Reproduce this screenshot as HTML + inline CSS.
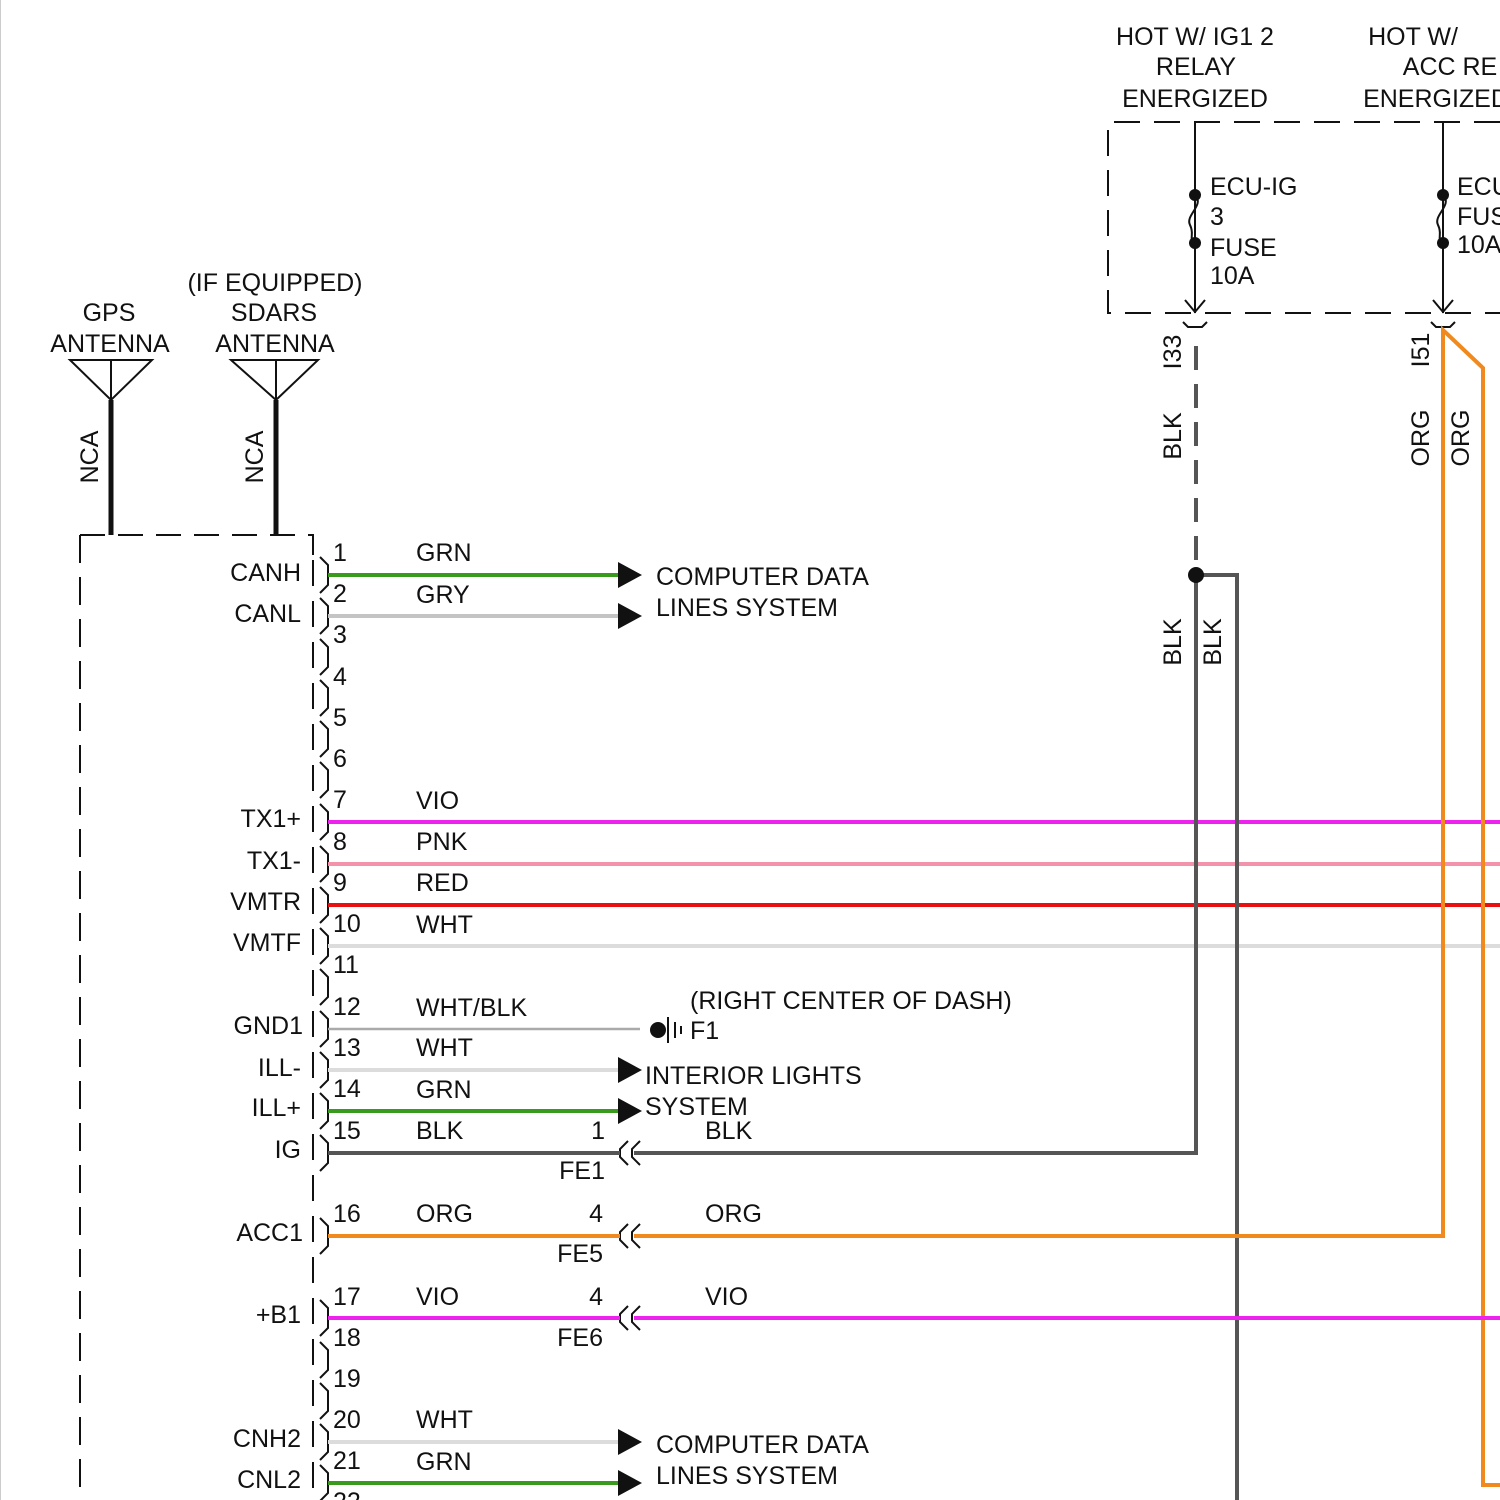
<!DOCTYPE html>
<html><head><meta charset="utf-8"><style>body{margin:0;background:#fff}svg{display:block}text{font-family:"Liberation Sans",sans-serif;font-size:25px;fill:#111}</style></head><body>
<svg width="1500" height="1500" viewBox="0 0 1500 1500" xmlns="http://www.w3.org/2000/svg">
<g stroke="#111" stroke-width="2" fill="none">
<line x1="0" y1="0" x2="0" y2="1500" stroke="#ccc"/>
<path d="M70,360 L152,360 L111,400 Z M111,360 L111,400"/>
<path d="M231,360 L318,360 L276,400 Z M276,360 L276,400"/>
<line x1="111" y1="400" x2="111" y2="535" stroke-width="5"/>
<line x1="276" y1="400" x2="276" y2="535" stroke-width="5"/>
<path d="M80,535 L313,535 L313,560" stroke-dasharray="25,13"/>
<line x1="80" y1="535" x2="80" y2="1500" stroke-dasharray="28,14"/>
<line x1="313" y1="560" x2="313" y2="1500" stroke-dasharray="26,15"/>
<path d="M1500,122 L1108,122 L1108,313 L1500,313" stroke-dasharray="26,14"/>
<line x1="1195" y1="122" x2="1195" y2="313"/>
<line x1="1443" y1="122" x2="1443" y2="313"/>
<path d="M1195,195 C1205,205 1185,215 1190,225 C1195,235 1188,238 1195,243"/>
<path d="M1443,195 C1453,205 1433,215 1438,225 C1443,235 1436,238 1443,243"/>
<path d="M1185,300 L1195,312 L1205,300 M1433,300 L1443,312 L1453,300"/>
<path d="M1183,322 L1188,327 L1202,327 L1207,322 M1431,322 L1436,327 L1450,327 L1455,322"/>
</g>
<g fill="#111"><circle cx="1195" cy="195" r="6"/><circle cx="1195" cy="243" r="6"/><circle cx="1443" cy="195" r="6"/><circle cx="1443" cy="243" r="6"/></g>
<g stroke="#111" stroke-width="2" fill="none">
<path d="M320,557 l8,8 v20 l-8,8 M320,598 l8,8 v20 l-8,8 M320,639 l8,8 v20 l-8,8 M320,680 l8,8 v20 l-8,8 M320,721 l8,8 v20 l-8,8 M320,762 l8,8 v20 l-8,8 M320,804 l8,8 v20 l-8,8 M320,846 l8,8 v20 l-8,8 M320,887 l8,8 v20 l-8,8 M320,928 l8,8 v20 l-8,8 M320,969 l8,8 v20 l-8,8 M320,1011 l8,8 v20 l-8,8 M320,1052 l8,8 v20 l-8,8 M320,1093 l8,8 v20 l-8,8 M320,1135 l8,8 v20 l-8,8 M320,1218 l8,8 v20 l-8,8 M320,1300 l8,8 v20 l-8,8 M320,1342 l8,8 v20 l-8,8 M320,1383 l8,8 v20 l-8,8 M320,1424 l8,8 v20 l-8,8 M320,1465 l8,8 v20 l-8,8"/>
<path d="M628,1141 l-8,8 v8 l8,8 M640,1141 l-8,8 v8 l8,8"/>
<path d="M628,1224 l-8,8 v8 l8,8 M640,1224 l-8,8 v8 l8,8"/>
<path d="M628,1306 l-8,8 v8 l8,8 M640,1306 l-8,8 v8 l8,8"/>
</g>
<g fill="none" stroke-width="4">
<line x1="328" y1="575" x2="620" y2="575" stroke="#3a9a1e"/>
<line x1="328" y1="616" x2="620" y2="616" stroke="#c4c4c4"/>
<line x1="328" y1="822" x2="1500" y2="822" stroke="#ee22ee"/>
<line x1="328" y1="864" x2="1500" y2="864" stroke="#f293aa"/>
<line x1="328" y1="905" x2="1500" y2="905" stroke="#e81010"/>
<line x1="328" y1="946" x2="1500" y2="946" stroke="#dcdcdc"/>
<line x1="328" y1="1029" x2="640" y2="1029" stroke="#aaa" stroke-width="2.5"/>
<line x1="328" y1="1070" x2="620" y2="1070" stroke="#dcdcdc"/>
<line x1="328" y1="1111" x2="620" y2="1111" stroke="#3a9a1e"/>
<line x1="328" y1="1153" x2="620" y2="1153" stroke="#555"/>
<path d="M634,1153 H1196 V575" stroke="#555"/>
<line x1="1196" y1="560" x2="1196" y2="338" stroke="#555" stroke-dasharray="24,14"/>
<path d="M1196,575 H1237 V1500" stroke="#555"/>
<line x1="328" y1="1236" x2="620" y2="1236" stroke="#f08a1e"/>
<path d="M634,1236 H1443 V330 L1483,368 V1485 H1500" stroke="#f08a1e"/>
<line x1="328" y1="1318" x2="620" y2="1318" stroke="#ee22ee"/>
<line x1="634" y1="1318" x2="1500" y2="1318" stroke="#ee22ee"/>
<line x1="328" y1="1442" x2="620" y2="1442" stroke="#dcdcdc"/>
<line x1="328" y1="1483" x2="620" y2="1483" stroke="#3a9a1e"/>
</g>
<g fill="#111">
<path d="M618,562 L642,575 L618,588Z M618,603 L642,616 L618,629Z M618,1057 L642,1070 L618,1083Z M618,1098 L642,1111 L618,1124Z M618,1429 L642,1442 L618,1455Z M618,1470 L642,1483 L618,1496Z"/>
<circle cx="1196" cy="575" r="8"/>
<circle cx="658" cy="1030" r="8"/>
<rect x="667" y="1017" width="2" height="26"/><rect x="674" y="1022" width="2" height="16"/><rect x="680" y="1026" width="2" height="8"/>
</g>
<g text-anchor="middle">
<text x="109" y="321">GPS</text><text x="110" y="352">ANTENNA</text>
<text x="275" y="291">(IF EQUIPPED)</text><text x="274" y="321">SDARS</text><text x="275" y="352">ANTENNA</text>
<text x="1195" y="45">HOT W/ IG1 2</text><text x="1196" y="75">RELAY</text><text x="1195" y="107">ENERGIZED</text>
<text x="1413" y="45">HOT W/</text><text x="1450" y="75">ACC RE</text><text x="1436" y="107">ENERGIZED</text>
</g>
<text x="1210" y="195">ECU-IG</text><text x="1210" y="225">3</text><text x="1210" y="256">FUSE</text><text x="1210" y="284">10A</text>
<text x="1457" y="195">ECU</text><text x="1457" y="225">FUS</text><text x="1457" y="253">10A</text>
<g>
<text transform="translate(98,457) rotate(-90)" text-anchor="middle">NCA</text>
<text transform="translate(263,457) rotate(-90)" text-anchor="middle">NCA</text>
<text transform="translate(1181,352) rotate(-90)" text-anchor="middle">I33</text>
<text transform="translate(1181,436) rotate(-90)" text-anchor="middle">BLK</text>
<text transform="translate(1181,642) rotate(-90)" text-anchor="middle">BLK</text>
<text transform="translate(1221,642) rotate(-90)" text-anchor="middle">BLK</text>
<text transform="translate(1429,350) rotate(-90)" text-anchor="middle">I51</text>
<text transform="translate(1429,438) rotate(-90)" text-anchor="middle">ORG</text>
<text transform="translate(1469,438) rotate(-90)" text-anchor="middle">ORG</text>
</g>
<g text-anchor="end">
<text x="301" y="581">CANH</text><text x="301" y="622">CANL</text><text x="301" y="827">TX1+</text><text x="301" y="869">TX1-</text>
<text x="301" y="910">VMTR</text><text x="301" y="951">VMTF</text><text x="303" y="1034">GND1</text><text x="301" y="1076">ILL-</text>
<text x="301" y="1116">ILL+</text><text x="301" y="1158">IG</text><text x="303" y="1241">ACC1</text><text x="301" y="1323">+B1</text>
<text x="301" y="1447">CNH2</text><text x="301" y="1488">CNL2</text>
<text x="605" y="1139">1</text><text x="605" y="1179">FE1</text><text x="603" y="1222">4</text><text x="603" y="1262">FE5</text>
<text x="603" y="1305">4</text><text x="603" y="1346">FE6</text>
</g>
<g>
<text x="333" y="561">1</text><text x="333" y="602">2</text><text x="333" y="643">3</text><text x="333" y="685">4</text><text x="333" y="726">5</text><text x="333" y="767">6</text>
<text x="333" y="808">7</text><text x="333" y="850">8</text><text x="333" y="891">9</text><text x="333" y="932">10</text><text x="333" y="973">11</text><text x="333" y="1015">12</text>
<text x="333" y="1056">13</text><text x="333" y="1097">14</text><text x="333" y="1139">15</text><text x="333" y="1222">16</text><text x="333" y="1305">17</text><text x="333" y="1346">18</text>
<text x="333" y="1387">19</text><text x="333" y="1428">20</text><text x="333" y="1469">21</text><text x="333" y="1510">22</text>
<text x="416" y="561">GRN</text><text x="416" y="603">GRY</text><text x="416" y="809">VIO</text><text x="416" y="850">PNK</text><text x="416" y="891">RED</text><text x="416" y="933">WHT</text>
<text x="416" y="1016">WHT/BLK</text><text x="416" y="1056">WHT</text><text x="416" y="1098">GRN</text><text x="416" y="1139">BLK</text><text x="416" y="1222">ORG</text><text x="416" y="1305">VIO</text>
<text x="416" y="1428">WHT</text><text x="416" y="1470">GRN</text>
<text x="656" y="585">COMPUTER DATA</text><text x="656" y="616">LINES SYSTEM</text>
<text x="690" y="1009">(RIGHT CENTER OF DASH)</text><text x="690" y="1039">F1</text>
<text x="645" y="1084">INTERIOR LIGHTS</text><text x="645" y="1115">SYSTEM</text>
<text x="705" y="1139">BLK</text><text x="705" y="1222">ORG</text><text x="705" y="1305">VIO</text>
<text x="656" y="1453">COMPUTER DATA</text><text x="656" y="1484">LINES SYSTEM</text>
</g>
</svg>
</body></html>
